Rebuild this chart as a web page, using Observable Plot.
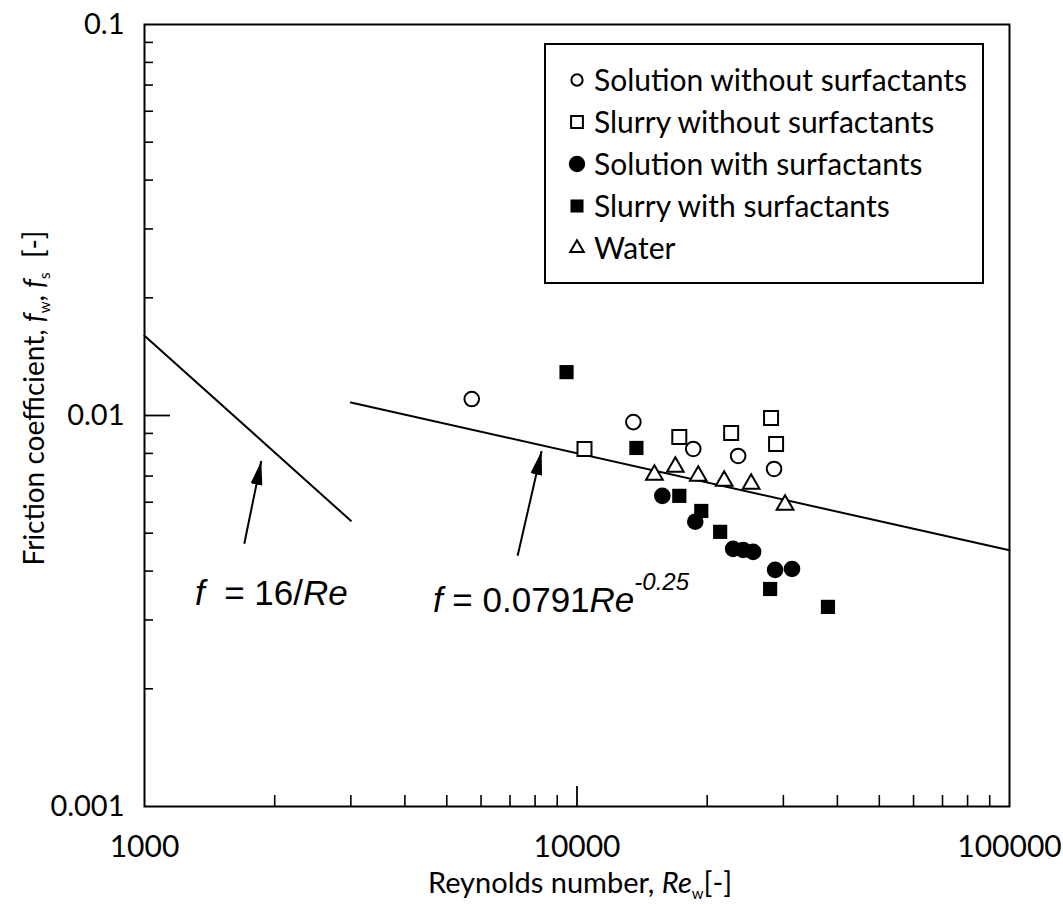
<!DOCTYPE html>
<html><head><meta charset="utf-8">
<script src="https://cdn.jsdelivr.net/npm/d3@7"></script>
<script src="https://cdn.jsdelivr.net/npm/@observablehq/plot@0.6"></script>
<style>body{margin:0;background:#fff;overflow:hidden}#chart{width:1063px;height:905px}</style>
</head><body><div id="chart"></div>
<script>
// ---- data ----
const solutionNoRe = [5710, 13500, 18570, 23580, 28550];
const solutionNoF = [0.01102, 0.00962, 0.00821, 0.00788, 0.00730];
const slurryNoRe = [10407, 17240, 22720, 28100, 28860];
const slurryNoF = [0.00821, 0.00881, 0.00902, 0.00985, 0.00846];
const solutionWithRe = [15750, 18770, 22960, 24220, 25540, 28710, 31420];
const solutionWithF = [0.00623, 0.00535, 0.00456, 0.00453, 0.00448, 0.00403, 0.00405];
const slurryWithRe = [9458, 13720, 17240, 19380, 21430, 27960, 38040];
const slurryWithF = [0.01291, 0.00826, 0.00623, 0.00570, 0.00504, 0.00360, 0.00324];
const waterRe = [15100, 16880, 19070, 21890, 25270, 30270];
const waterF = [0.00705, 0.00739, 0.00701, 0.00680, 0.00668, 0.00591];

const laminarRe = [1000, 3000];
const laminarF = [0.0160, 0.00538];
const turbulentRe = [3000, 100000];
const turbulentF = [0.0108, 0.00452];

const arrowTailRe = [1701, 7290];
const arrowTailF = [0.00470, 0.00438];
const arrowHeadRe = [1862, 8283];
const arrowHeadF = [0.00765, 0.00811];

const annotationRe = [1312, 4656];
const annotationF = [0.00327, 0.00313];

const xTickLabels = [1000, 10000, 100000];
const yTickLabels = [0.1, 0.01, 0.001];
const xMinorTicks = [2000, 3000, 4000, 5000, 6000, 7000, 8000, 9000, 20000, 30000, 40000, 50000, 60000, 70000, 80000, 90000];
const yMinorTicks = [0.002, 0.003, 0.004, 0.005, 0.006, 0.007, 0.008, 0.009, 0.02, 0.03, 0.04, 0.05, 0.06, 0.07, 0.08, 0.09];

const legendLabels = ["Solution without surfactants", "Slurry without surfactants", "Solution with surfactants", "Slurry with surfactants", "Water"];

// ---- layout ----
const W = 1063, H = 905, mL = 144, mR = 54, mT = 24, mB = 99;
const frameW = W - mL - mR, frameH = H - mT - mB;
const FONT = "Lato, 'Open Sans', sans-serif";
const MATH = "'Liberation Sans', Arial, sans-serif";

function arrowMarker(color) {
  const m = d3.create("svg:marker")
    .attr("viewBox", "-24 -6 24 12")
    .attr("markerWidth", 24).attr("markerHeight", 12)
    .attr("markerUnits", "userSpaceOnUse")
    .attr("refX", 0).attr("refY", 0)
    .attr("orient", "auto");
  m.append("path").attr("d", "M0,0L-24,-6L-24,6Z").attr("fill", "black").attr("stroke", "none");
  return m.node();
}

const dotBase = {stroke: "black", strokeWidth: 2};
const plot = Plot.plot({
  width: W, height: H,
  marginLeft: mL, marginRight: mR, marginTop: mT, marginBottom: mB,
  style: {fontFamily: FONT, fontSize: "29px", background: "white", color: "black"},
  x: {type: "log", domain: [1000, 100000]},
  y: {type: "log", domain: [0.001, 0.1]},
  marks: [
    Plot.tickY(yMinorTicks, {y: d => d, insetRight: frameW - 9, strokeWidth: 1.6}),
    Plot.tickY([0.01], {y: d => d, insetRight: frameW - 26, strokeWidth: 1.8}),
    Plot.tickX(xMinorTicks, {x: d => d, insetTop: frameH - 11, strokeWidth: 1.6}),
    Plot.tickX([10000], {x: d => d, insetTop: frameH - 20, strokeWidth: 1.8}),
    Plot.axisY(yTickLabels, {tickSize: 0, tickPadding: 20, tickFormat: d => String(d), label: null, fontSize: 29}),
    Plot.axisX(xTickLabels, {tickSize: 0, tickPadding: 29, tickFormat: d => String(d), label: null, fontSize: 30}),
    Plot.frame({stroke: "black", strokeWidth: 2}),
    Plot.line({length: 2}, {x: laminarRe, y: laminarF, stroke: "black", strokeWidth: 2}),
    Plot.line({length: 2}, {x: turbulentRe, y: turbulentF, stroke: "black", strokeWidth: 2}),
    Plot.link({length: 2}, {x1: arrowTailRe, y1: arrowTailF, x2: arrowHeadRe, y2: arrowHeadF, stroke: "black", strokeWidth: 2, markerEnd: arrowMarker}),
    Plot.dot({length: solutionNoRe.length}, {x: solutionNoRe, y: solutionNoF, symbol: "circle", r: 7.3, fill: "white", ...dotBase}),
    Plot.dot({length: slurryNoRe.length}, {x: slurryNoRe, y: slurryNoF, symbol: "square", r: 7.9, fill: "white", ...dotBase}),
    Plot.dot({length: waterRe.length}, {x: waterRe, y: waterF, symbol: "triangle", r: 6.2, fill: "white", ...dotBase}),
    Plot.dot({length: solutionWithRe.length}, {x: solutionWithRe, y: solutionWithF, symbol: "circle", r: 8.3, fill: "black", stroke: "none"}),
    Plot.dot({length: slurryWithRe.length}, {x: slurryWithRe, y: slurryWithF, symbol: "square", r: 8.0, fill: "black", stroke: "none"})
  ]
});
document.getElementById("chart").append(plot);

const svg = d3.select(plot);
const sx = plot.scale("x"), sy = plot.scale("y");
const NB = "\u00a0";

// annotations
const a1 = svg.append("text").attr("x", sx.apply(annotationRe[0])).attr("y", sy.apply(annotationF[0]))
  .attr("text-anchor", "start").attr("font-family", MATH).attr("font-size", 35).attr("fill", "black");
a1.append("tspan").attr("font-style", "italic").text("f");
a1.append("tspan").text(NB + NB + "= 16/");
a1.append("tspan").attr("font-style", "italic").text("Re");

const a2 = svg.append("text").attr("x", sx.apply(annotationRe[1])).attr("y", sy.apply(annotationF[1]))
  .attr("text-anchor", "start").attr("font-family", MATH).attr("font-size", 35).attr("fill", "black");
a2.append("tspan").attr("font-style", "italic").text("f");
a2.append("tspan").text(NB + "= 0.0791");
a2.append("tspan").attr("font-style", "italic").text("Re");
a2.append("tspan").attr("font-style", "italic").attr("font-size", 24).attr("dy", -22).text("-0.25");

// axis titles
const xl = svg.append("text").attr("x", 580).attr("y", 893).attr("text-anchor", "middle")
  .attr("font-family", FONT).attr("font-size", 29).attr("fill", "black");
xl.append("tspan").text("Reynolds number, ");
xl.append("tspan").attr("font-style", "italic").text("Re");
xl.append("tspan").attr("font-size", 15).attr("dy", 6).text("w");
xl.append("tspan").attr("dy", -6).text("[-]");

const yl = svg.append("text").attr("transform", "translate(44,398) rotate(-90)").attr("text-anchor", "middle")
  .attr("font-family", FONT).attr("font-size", 28).attr("fill", "black");
yl.append("tspan").text("Friction coefficient, ");
yl.append("tspan").attr("font-style", "italic").text("f");
yl.append("tspan").attr("font-size", 15).attr("dy", 6).text("w");
yl.append("tspan").attr("dy", -6).text(", ");
yl.append("tspan").attr("font-style", "italic").text("f");
yl.append("tspan").attr("font-size", 15).attr("dy", 6).text("s");
yl.append("tspan").attr("dy", -6).text(NB + NB + "[-]");

// legend
const lg = svg.append("g");
lg.append("rect").attr("x", 545).attr("y", 44).attr("width", 438).attr("height", 239)
  .attr("fill", "white").attr("stroke", "black").attr("stroke-width", 2);
const legendSym = [
  {type: d3.symbolCircle, size: 100, fill: false},
  {type: d3.symbolSquare, size: 140, fill: false},
  {type: d3.symbolCircle, size: 210, fill: true},
  {type: d3.symbolSquare, size: 170, fill: true},
  {type: d3.symbolTriangle, size: 80, fill: false}
];
legendLabels.forEach((lab, i) => {
  const cy = 80 + i * 42;
  const s = legendSym[i];
  lg.append("path").attr("d", d3.symbol(s.type, s.size)())
    .attr("transform", `translate(577,${cy})`)
    .attr("fill", s.fill ? "black" : "white")
    .attr("stroke", s.fill ? "none" : "black").attr("stroke-width", 2);
  lg.append("text").attr("x", 594).attr("y", cy).attr("dy", "0.36em").attr("text-anchor", "start")
    .attr("font-family", FONT).attr("font-size", 30).attr("fill", "black").text(lab);
});
</script>
</body></html>
